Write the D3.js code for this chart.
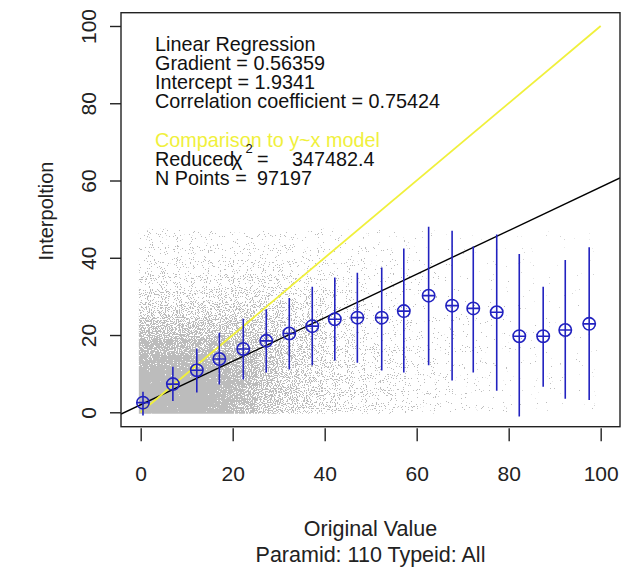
<!DOCTYPE html>
<html>
<head>
<meta charset="utf-8">
<script src="https://cdn.jsdelivr.net/npm/d3@7"></script>
<style>
html,body{margin:0;padding:0;background:#fff;}
svg{display:block;font-family:"Liberation Sans",Arial,Helvetica,sans-serif;}
</style>
</head>
<body>
<svg id="chart" width="624" height="569"></svg>
<script>
// ---- data ----
const xTicks = [0, 20, 40, 60, 80, 100];
const yTicks = [0, 20, 40, 60, 80, 100];

// binned means with error bars (blue)
const binX    = [0.5, 7.0, 12.2, 17.1, 22.3, 27.3, 32.3, 37.3, 42.2, 47.1, 52.4, 57.2, 62.6, 67.7, 72.3, 77.4, 82.3, 87.5, 92.3, 97.5];
const binMean = [2.5, 7.3, 10.9, 13.8, 16.4, 18.5, 20.4, 22.3, 24.1, 24.5, 24.5, 26.2, 30.2, 27.6, 26.9, 25.9, 19.7, 19.7, 21.3, 22.9];
const binLow  = [-0.8, 2.9, 5.1, 7.2, 8.5, 10.3, 11.1, 12.2, 13.4, 12.8, 10.8, 10.3, 12.2, 8.2, 10.3, 5.6, -1.1, 6.6, 3.5, 3.2];
const binHigh = [5.3, 11.8, 16.5, 20.6, 24.2, 26.7, 29.6, 32.5, 34.9, 36.1, 37.5, 42.4, 48.0, 47.0, 42.9, 46.0, 41.0, 32.5, 39.4, 42.7];

// regression and reference line
const gradient = 0.56359;
const intercept = 1.9341;
const refLine = [[0, 0], [100, 100]];

// density of the grey point cloud (fraction of area covered), 5x5 unit cells
const cellSize = 5;
const densityX = [0, 5, 10, 15, 20, 25, 30, 35, 40, 45, 50, 55, 60, 65, 70, 75, 80, 85, 90, 95];
const densityY = [0, 5, 10, 15, 20, 25, 30, 35, 40, 45];
const dens00 = [1.00, 1.00, 1.00, 0.95, 0.75, 0.50, 0.35, 0.25, 0.17, 0.12, 0.09, 0.07, 0.05, 0.04, 0.03, 0.025, 0.02, 0.018, 0.015, 0.015];
const dens05 = [1.00, 1.00, 1.00, 0.95, 0.78, 0.52, 0.36, 0.25, 0.17, 0.12, 0.09, 0.07, 0.05, 0.04, 0.03, 0.025, 0.02, 0.018, 0.015, 0.015];
const dens10 = [0.95, 0.95, 0.93, 0.88, 0.72, 0.52, 0.36, 0.25, 0.17, 0.12, 0.09, 0.07, 0.05, 0.04, 0.03, 0.025, 0.02, 0.018, 0.015, 0.015];
const dens15 = [0.80, 0.78, 0.76, 0.72, 0.62, 0.48, 0.34, 0.24, 0.16, 0.11, 0.08, 0.06, 0.05, 0.04, 0.03, 0.025, 0.02, 0.018, 0.015, 0.015];
const dens20 = [0.55, 0.50, 0.48, 0.48, 0.45, 0.38, 0.28, 0.20, 0.13, 0.09, 0.07, 0.05, 0.04, 0.035, 0.03, 0.025, 0.02, 0.015, 0.015, 0.012];
const dens25 = [0.30, 0.26, 0.26, 0.28, 0.28, 0.25, 0.20, 0.14, 0.10, 0.07, 0.05, 0.04, 0.035, 0.03, 0.025, 0.02, 0.015, 0.012, 0.012, 0.012];
const dens30 = [0.16, 0.14, 0.14, 0.15, 0.16, 0.15, 0.13, 0.10, 0.07, 0.05, 0.04, 0.035, 0.03, 0.025, 0.02, 0.015, 0.012, 0.012, 0.01, 0.01];
const dens35 = [0.10, 0.08, 0.08, 0.09, 0.09, 0.09, 0.08, 0.07, 0.05, 0.04, 0.035, 0.03, 0.025, 0.02, 0.015, 0.012, 0.012, 0.01, 0.01, 0.01];
const dens40 = [0.07, 0.06, 0.06, 0.06, 0.06, 0.06, 0.055, 0.05, 0.04, 0.035, 0.03, 0.025, 0.02, 0.018, 0.015, 0.012, 0.01, 0.01, 0.01, 0.01];
const dens45 = [0.05, 0.045, 0.045, 0.045, 0.045, 0.045, 0.04, 0.035, 0.03, 0.025, 0.02, 0.018, 0.015, 0.012, 0.01, 0.01, 0.01, 0.01, 0.008, 0.008];
const densRows = [dens00, dens05, dens10, dens15, dens20, dens25, dens30, dens35, dens40, dens45];
const cloudTop = 47.5;

// annotation texts
const statLines = ["Linear Regression", "Gradient = 0.56359", "Intercept = 1.9341", "Correlation coefficient = 0.75424"];
const compTitle = "Comparison to y~x model";
const chiValue = "347482.4";
const nPoints = "97197";
const xTitle = "Original Value";
const subTitle = "Paramid: 110 Typeid: All";
const yTitle = "Interpoltion";

// ---- drawing ----
const svg = d3.select("#chart");
const box = {l: 121, r: 620, t: 12.7, b: 426.7};
const x = d3.scaleLinear().domain([-4.28, 104.2]).range([box.l, box.r]);
const y = d3.scaleLinear().domain([-3.73, 103.44]).range([box.b, box.t]);

const blue = "#2222c0";
const grey = "#bcbcbc";
const yellow = "#f0f03c";

const defs = svg.append("defs");
// stipple texture (style only): blurred density alpha thresholded against fine noise,
// the noise is first flattened so that covered fraction follows the density value
const noiseCurve = "0.002 0.002 0.002 0.003 0.008 0.023 0.055 0.115 0.212 0.345 0.5 0.655 0.788 0.885 0.945 0.977 0.992 0.997 0.998 0.998 0.998";
const f = defs.append("filter").attr("id", "stipple")
  .attr("filterUnits", "userSpaceOnUse")
  .attr("x", box.l).attr("y", box.t).attr("width", box.r - box.l).attr("height", box.b - box.t)
  .attr("color-interpolation-filters", "sRGB");
f.append("feGaussianBlur").attr("in", "SourceAlpha").attr("stdDeviation", 5.5).attr("result", "dens");
f.append("feTurbulence").attr("type", "fractalNoise").attr("baseFrequency", 0.93)
  .attr("numOctaves", 2).attr("seed", 7).attr("result", "noise");
const ct = f.append("feComponentTransfer").attr("in", "noise").attr("result", "ns");
ct.append("feFuncA").attr("type", "table").attr("tableValues", noiseCurve);
f.append("feComposite").attr("in", "dens").attr("in2", "ns").attr("operator", "arithmetic")
  .attr("k1", 0).attr("k2", 1).attr("k3", -1).attr("k4", 0).attr("result", "diff");
const th = f.append("feComponentTransfer").attr("in", "diff").attr("result", "mask");
th.append("feFuncA").attr("type", "linear").attr("slope", 80).attr("intercept", 0);
f.append("feFlood").attr("flood-color", grey).attr("result", "col");
f.append("feComposite").attr("in", "col").attr("in2", "mask").attr("operator", "in");

defs.append("clipPath").attr("id", "cloudClip").append("rect")
  .attr("x", x(-0.4)).attr("y", y(cloudTop))
  .attr("width", x(100) - x(-0.4)).attr("height", y(-0.4) - y(cloudTop));
defs.append("clipPath").attr("id", "boxClip").append("rect")
  .attr("x", box.l).attr("y", box.t).attr("width", box.r - box.l).attr("height", box.b - box.t);

// point cloud density
const cells = [];
densRows.forEach((row, j) => row.forEach((v, i) => cells.push({x0: densityX[i], y0: densityY[j], v})));
const cloud = svg.append("g").attr("clip-path", "url(#cloudClip)")
  .append("g").attr("filter", "url(#stipple)");
cloud.selectAll("rect").data(cells).join("rect")
  .attr("x", d => x(d.x0 === 0 ? -3 : d.x0))
  .attr("y", d => y(d.y0 + cellSize))
  .attr("width", d => x(d.x0 + cellSize) - x(d.x0 === 0 ? -3 : d.x0) + 0.5)
  .attr("height", d => y(d.y0 === 0 ? -3 : d.y0) - y(d.y0 + cellSize) + 0.5)
  .attr("fill", "#000")
  .attr("fill-opacity", d => d.v);

const plot = svg.append("g").attr("clip-path", "url(#boxClip)");

// regression line
const xd = x.domain();
plot.append("line")
  .attr("x1", x(xd[0])).attr("y1", y(gradient * xd[0] + intercept))
  .attr("x2", x(xd[1])).attr("y2", y(gradient * xd[1] + intercept))
  .attr("stroke", "#000").attr("stroke-width", 1.4);

// y = x reference line
plot.append("path")
  .attr("d", d3.line().x(d => x(d[0])).y(d => y(d[1]))(refLine))
  .attr("stroke", yellow).attr("stroke-width", 1.8).attr("fill", "none");

// error bars and markers
const bins = binX.map((v, i) => ({x: v, m: binMean[i], lo: binLow[i], hi: binHigh[i]}));
const bg = plot.append("g").attr("stroke", blue).attr("fill", "none").attr("stroke-width", 1.6);
bg.selectAll("line.err").data(bins).join("line").attr("class", "err")
  .attr("x1", d => x(d.x)).attr("x2", d => x(d.x))
  .attr("y1", d => y(d.lo)).attr("y2", d => y(d.hi));
bg.selectAll("circle").data(bins).join("circle")
  .attr("cx", d => x(d.x)).attr("cy", d => y(d.m)).attr("r", 6.2);
bg.selectAll("line.cross").data(bins).join("line").attr("class", "cross")
  .attr("x1", d => x(d.x) - 6.2).attr("x2", d => x(d.x) + 6.2)
  .attr("y1", d => y(d.m)).attr("y2", d => y(d.m));

// box
svg.append("rect").attr("x", box.l).attr("y", box.t)
  .attr("width", box.r - box.l).attr("height", box.b - box.t)
  .attr("fill", "none").attr("stroke", "#222").attr("stroke-width", 1.4);

// axes
const xAxis = svg.append("g").attr("transform", `translate(0,${box.b + 1.5})`)
  .call(d3.axisBottom(x).tickValues(xTicks).tickSize(13).tickPadding(25).tickFormat(d3.format("d")));
xAxis.select(".domain").remove();
xAxis.selectAll("line").attr("stroke", "#222").attr("stroke-width", 1.4);
xAxis.selectAll("text").attr("font-size", 21).attr("fill", "#222").attr("font-family", null);

const yAxis = svg.append("g").attr("transform", `translate(${box.l},0)`)
  .call(d3.axisLeft(y).tickValues(yTicks).tickSize(11).tickFormat(d3.format("d")));
yAxis.select(".domain").remove();
yAxis.selectAll("line").attr("stroke", "#222").attr("stroke-width", 1.4);
yAxis.selectAll("text").attr("x", null).attr("dy", null)
  .attr("text-anchor", "middle")
  .attr("transform", "translate(-25,0) rotate(-90)")
  .attr("font-size", 21).attr("fill", "#222").attr("font-family", null);

// axis titles
svg.append("text").attr("x", (box.l + box.r) / 2).attr("y", 536)
  .attr("text-anchor", "middle").attr("font-size", 21.5).attr("fill", "#222").text(xTitle);
svg.append("text").attr("x", (box.l + box.r) / 2).attr("y", 562)
  .attr("text-anchor", "middle").attr("font-size", 21.5).attr("fill", "#222").text(subTitle);
svg.append("text").attr("transform", "translate(53,211) rotate(-90)")
  .attr("text-anchor", "middle").attr("font-size", 20).attr("fill", "#222").text(yTitle);

// annotation
const ann = svg.append("g").attr("font-size", 19.8).attr("fill", "#111");
const statBase = [50.5, 69.8, 89, 108.3];
statLines.forEach((t, i) => ann.append("text").attr("x", 155).attr("y", statBase[i]).text(t));
ann.append("text").attr("x", 155).attr("y", 146.5).attr("fill", yellow).text(compTitle);
const chi = ann.append("text").attr("x", 155).attr("y", 165.8);
chi.append("tspan").text("Reduced");
chi.append("tspan").attr("x", 231.5).attr("font-size", 21).text("\u03C7");
chi.append("tspan").attr("x", 245.5).attr("dy", -13).attr("font-size", 13).text("2");
chi.append("tspan").attr("x", 257).attr("dy", 13).text("=");
chi.append("tspan").attr("x", 292).text(chiValue);
const np = ann.append("text").attr("x", 155).attr("y", 185);
np.append("tspan").text("N Points =");
np.append("tspan").attr("x", 257).text(nPoints);
</script>
</body>
</html>
